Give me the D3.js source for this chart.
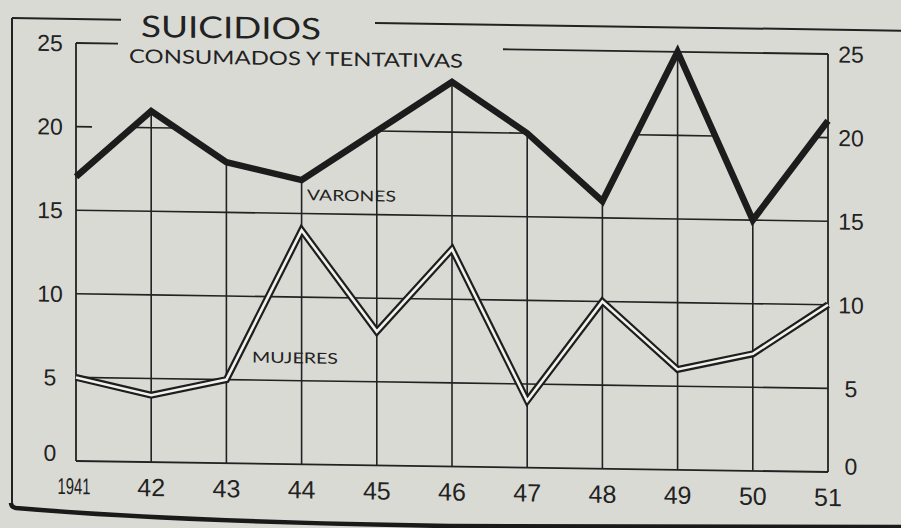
<!DOCTYPE html>
<html>
<head>
<meta charset="utf-8">
<script src="https://cdn.jsdelivr.net/npm/d3@7"></script>
<style>
  html, body { margin: 0; padding: 0; background: #dadad5; }
  svg { display: block; }
</style>
</head>
<body>
<svg id="chart" width="901" height="528"></svg>
<script>
// ---- data ----
const years = [1941, 1942, 1943, 1944, 1945, 1946, 1947, 1948, 1949, 1950, 1951];
const yearLabels = ["1941", "42", "43", "44", "45", "46", "47", "48", "49", "50", "51"];
const varones = [17, 21, 18, 17, 20, 23, 20, 16, 25, 15, 21];
const mujeres = [5, 4, 5, 14, 8, 13, 4, 10, 6, 7, 10];
const yTicks = [0, 5, 10, 15, 20, 25];
const gridValues = [5, 10, 15, 20];
const title = "SUICIDIOS";
const subtitle = "CONSUMADOS Y TENTATIVAS";

// ---- layout ----
const W = 901, H = 528;
const ink = "#222";
const paper = "#dadad5";
const svg = d3.select("#chart");
svg.append("rect").attr("width", W).attr("height", H).attr("fill", paper);

const k = 0.0146;
const ang = Math.atan(k) * 180 / Math.PI;
const g = svg.append("g").attr("transform", `translate(0,${-76 * k}) skewY(${ang})`);

const x = d3.scaleLinear().domain([1941, 1951]).range([76, 828]);
const y = d3.scaleLinear().domain([0, 25]).range([461, 43]);

const vData = years.map((yr, i) => ({ yr, v: varones[i] }));
const mData = years.map((yr, i) => ({ yr, v: mujeres[i] }));

// grid runs only beneath the "varones" line
const hSegs = [];
gridValues.forEach(v => {
  for (let i = 0; i < years.length - 1; i++) {
    const a = varones[i], b = varones[i + 1];
    const y0 = years[i], y1 = years[i + 1];
    if (a >= v && b >= v) hSegs.push({ v, from: y0, to: y1 });
    else if (a >= v) hSegs.push({ v, from: y0, to: y0 + (a - v) / (a - b) });
    else if (b >= v) hSegs.push({ v, from: y0 + (v - a) / (b - a), to: y1 });
  }
});
const grid = g.append("g").attr("stroke", ink).attr("stroke-width", 1.6);
grid.selectAll("line.h").data(hSegs).join("line").attr("class", "h")
  .attr("x1", d => x(d.from)).attr("x2", d => x(d.to))
  .attr("y1", d => y(d.v)).attr("y2", d => y(d.v));
grid.selectAll("line.v").data(vData.slice(1, -1)).join("line").attr("class", "v")
  .attr("x1", d => x(d.yr)).attr("x2", d => x(d.yr))
  .attr("y1", y(0)).attr("y2", d => y(d.v));

// frame of plot
const frame = g.append("g").attr("stroke", ink).attr("stroke-width", 1.8).attr("fill", "none");
frame.append("line").attr("x1", x(1941)).attr("x2", x(1941)).attr("y1", y(0)).attr("y2", y(25));
frame.append("line").attr("x1", x(1951)).attr("x2", x(1951)).attr("y1", y(0)).attr("y2", y(25));
frame.append("line").attr("x1", x(1941)).attr("x2", x(1951)).attr("y1", y(0)).attr("y2", y(0));
frame.append("line").attr("x1", x(1941)).attr("x2", 118).attr("y1", y(25)).attr("y2", y(25));
frame.append("line").attr("x1", 503).attr("x2", x(1951)).attr("y1", y(25)).attr("y2", y(25));
frame.append("line").attr("x1", x(1941)).attr("x2", x(1941) + 16).attr("y1", y(20)).attr("y2", y(20));

// outer frame
const outer = g.append("g").attr("stroke", ink).attr("stroke-width", 2).attr("fill", "none");
outer.append("line").attr("x1", 12).attr("x2", 121).attr("y1", 19).attr("y2", 19);
outer.append("line").attr("x1", 375).attr("x2", 905).attr("y1", 18.6).attr("y2", 18.6);
outer.append("line").attr("x1", 12).attr("x2", 12).attr("y1", 19).attr("y2", 505);

// lines
const line = d3.line().x(d => x(d.yr)).y(d => y(d.v));
g.append("path").attr("d", line(mData)).attr("fill", "none")
  .attr("stroke", "#1e1e1e").attr("stroke-width", 7).attr("stroke-linejoin", "miter");
g.append("path").attr("d", line(mData)).attr("fill", "none")
  .attr("stroke", "#f1f1ed").attr("stroke-width", 2.6).attr("stroke-linejoin", "miter");
g.append("path").attr("d", line(vData)).attr("fill", "none")
  .attr("stroke", "#1c1c1c").attr("stroke-width", 6.5).attr("stroke-linejoin", "miter");

// axis labels
const numFont = "'Liberation Sans Narrow', 'Liberation Sans', Arial, sans-serif";
g.append("g").selectAll("text").data(yTicks).join("text")
  .attr("x", 50).attr("y", d => y(d) - (d === 0 ? 8 : 0))
  .attr("dy", "0.36em").attr("text-anchor", "middle")
  .attr("font-family", numFont).attr("font-size", 23).attr("fill", ink)
  .text(d => d);
g.append("g").selectAll("text").data(yTicks).join("text")
  .attr("x", 851).attr("y", d => y(d) - (d === 0 ? 6 : 0))
  .attr("dy", "0.36em").attr("text-anchor", "middle")
  .attr("font-family", numFont).attr("font-size", 23).attr("fill", ink)
  .text(d => d);
const yl = g.append("g").selectAll("text").data(years).join("text")
  .attr("x", (d, i) => i === 0 ? x(d) - 2 : x(d))
  .attr("y", 486).attr("dy", "0.36em").attr("text-anchor", "middle")
  .attr("font-family", numFont).attr("font-size", (d, i) => i === 0 ? 23 : 25)
  .attr("fill", ink)
  .text((d, i) => yearLabels[i]);
yl.filter((d, i) => i === 0).attr("textLength", 33).attr("lengthAdjust", "spacingAndGlyphs");

// titles
const tFont = "Lato, 'Open Sans', 'DejaVu Sans', sans-serif";
g.append("text").attr("x", 141).attr("y", 36).attr("font-family", tFont)
  .attr("font-size", 30).attr("fill", ink).attr("textLength", 180)
  .attr("lengthAdjust", "spacingAndGlyphs").text(title);
g.append("text").attr("x", 129).attr("y", 62).attr("font-family", tFont)
  .attr("font-size", 19).attr("fill", ink).attr("textLength", 334)
  .attr("lengthAdjust", "spacingAndGlyphs").text(subtitle);

// series labels
g.append("text").attr("x", 307).attr("y", 197).attr("font-family", tFont)
  .attr("font-size", 15).attr("fill", ink).attr("textLength", 89)
  .attr("lengthAdjust", "spacingAndGlyphs").text("VARONES");
g.append("text").attr("x", 252).attr("y", 360).attr("font-family", tFont)
  .attr("font-size", 15).attr("fill", ink).attr("textLength", 86)
  .attr("lengthAdjust", "spacingAndGlyphs").text("MUJERES");

// bottom edge of the frame (curved paper edge)
svg.append("path")
  .attr("d", "M11,503 Q11,507 16,508 C 110,516 250,523 450,526 L 905,527")
  .attr("fill", "none").attr("stroke", "#1a1a1a").attr("stroke-width", 4.5);
</script>
</body>
</html>
